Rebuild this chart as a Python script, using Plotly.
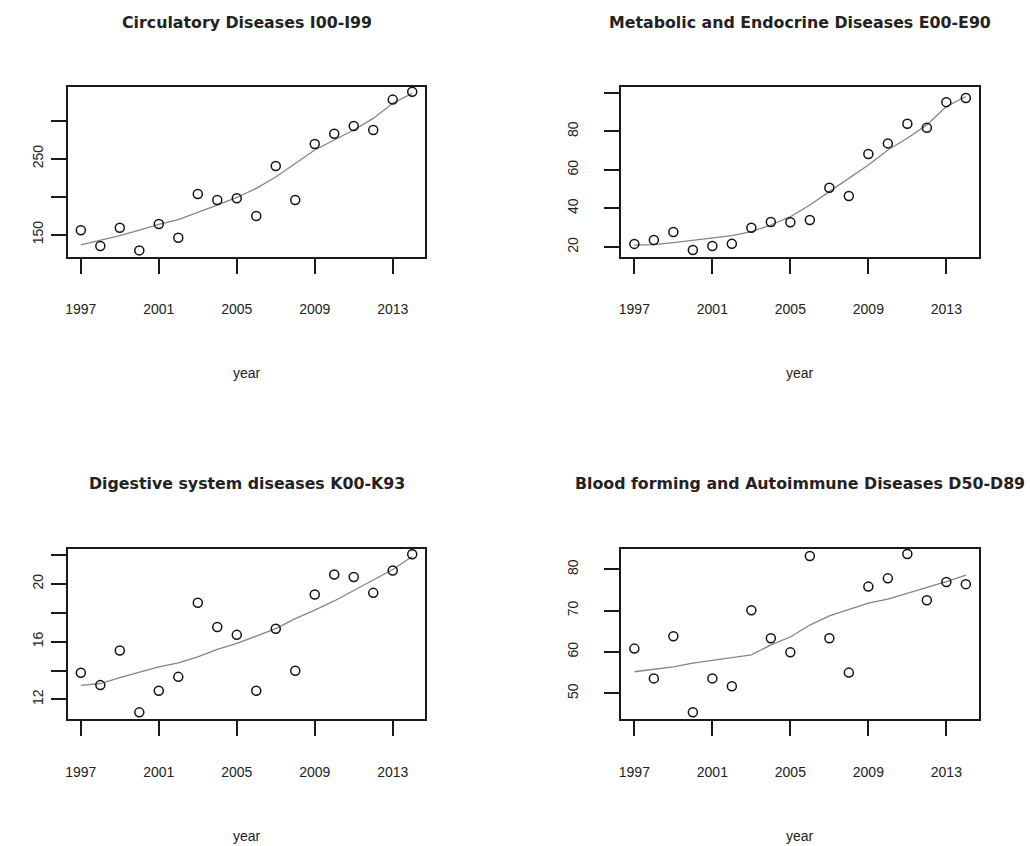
import plotly.graph_objects as go

years = list(range(1997, 2015))

titles = [
    "Circulatory Diseases I00-I99",
    "Metabolic and Endocrine Diseases E00-E90",
    "Digestive system diseases K00-K93",
    "Blood forming and Autoimmune Diseases D50-D89",
]

circulatory = [155.8, 135.1, 159.2, 129.4, 164.1, 146.1, 203.5, 195.7, 197.9, 174.6,
               240.4, 195.7, 269.4, 282.9, 293.0, 287.8, 327.7, 338.0]
circulatory_smooth = [136.8, 143.0, 148.7, 156.0, 163.7, 170.0, 179.0, 189.0, 199.0, 211.0,
                      226.0, 244.0, 261.5, 274.6, 287.8, 303.0, 323.0, 336.0]

metabolic = [21.6, 23.6, 27.8, 18.4, 20.5, 21.7, 30.0, 33.0, 32.8, 34.0,
             50.7, 46.4, 68.2, 73.7, 83.9, 81.8, 95.1, 97.2]
metabolic_smooth = [21.0, 21.2, 22.3, 23.6, 24.8, 25.9, 28.0, 31.4, 35.7, 41.8,
                    48.7, 55.6, 62.5, 70.3, 76.4, 83.3, 92.8, 98.0]

digestive = [13.84, 12.99, 15.39, 11.10, 12.60, 13.56, 18.69, 17.02, 16.47, 12.60,
             16.89, 13.98, 19.27, 20.65, 20.48, 19.38, 20.93, 22.06]
digestive_smooth = [12.97, 13.10, 13.50, 13.90, 14.26, 14.53, 14.95, 15.46, 15.88, 16.38,
                    16.90, 17.60, 18.18, 18.82, 19.56, 20.30, 21.00, 21.90]

blood = [60.8, 53.6, 63.8, 45.4, 53.6, 51.7, 70.1, 63.3, 59.9, 83.2,
         63.3, 55.0, 75.8, 77.8, 83.7, 72.5, 76.9, 76.4]
blood_smooth = [55.2, 55.8, 56.4, 57.3, 57.9, 58.6, 59.3, 61.7, 63.6, 66.5,
                68.7, 70.3, 71.8, 72.8, 74.2, 75.7, 77.0, 78.6]

x_tickvals = [1997, 2001, 2005, 2009, 2013]
x_range = [1996.32, 2014.68]

y_tickvals = [[150, 200, 250, 300], [20, 40, 60, 80, 100],
              [12, 14, 16, 18, 20, 22], [50, 60, 70, 80]]
y_ticktext = [["150", "", "250", ""], ["20", "40", "60", "80", ""],
              ["12", "", "16", "", "20", ""], ["50", "60", "70", "80"]]
y_ranges = [[121.1, 344.7], [14.97, 103.1], [10.62, 22.42], [43.7, 84.9]]

series = [circulatory, metabolic, digestive, blood]
smooths = [circulatory_smooth, metabolic_smooth, digestive_smooth, blood_smooth]

W, H = 1030, 846
# pixel boxes of the four panels: (left, right, top, bottom)
boxes = [(65.7, 424.3, 86.7, 256.7), (620.3, 979.0, 86.7, 256.7),
         (65.7, 424.3, 549.0, 719.3), (620.3, 979.0, 549.0, 719.3)]
title_y = [22, 22, 483, 483]
xlab_y = [373, 373, 836, 836]
ylab_standoff = [2, 21, 2, 21]

fig = go.Figure()
axis_col = "#1a1a1a"
text_col = "#222222"
annotations = []
for i in range(4):
    l, r, t, b = boxes[i]
    xa = "x" if i == 0 else f"x{i+1}"
    ya = "y" if i == 0 else f"y{i+1}"
    fig.add_trace(go.Scatter(x=years, y=smooths[i], mode="lines",
                             line=dict(color="#858585", width=1.3),
                             xaxis=xa, yaxis=ya, showlegend=False, hoverinfo="skip"))
    fig.add_trace(go.Scatter(x=years, y=series[i], mode="markers",
                             marker=dict(symbol="circle-open", size=9, color="#111111",
                                         line=dict(width=1.5, color="#111111")),
                             xaxis=xa, yaxis=ya, showlegend=False))
    xkey = "xaxis" if i == 0 else f"xaxis{i+1}"
    ykey = "yaxis" if i == 0 else f"yaxis{i+1}"
    common = dict(showline=True, mirror=True, linecolor=axis_col, linewidth=1.8,
                  ticks="outside", ticklen=15, tickwidth=1.5, tickcolor=axis_col,
                  showgrid=False, zeroline=False,
                  tickfont=dict(family="Liberation Sans, Arial, sans-serif", size=14, color=text_col))
    fig.layout[xkey] = dict(common, domain=[l / W, r / W], anchor=ya, range=x_range,
                            tickvals=x_tickvals, ticktext=[str(v) for v in x_tickvals],
                            ticklabelstandoff=24)
    fig.layout[ykey] = dict(common, domain=[1 - b / H, 1 - t / H], anchor=xa, range=y_ranges[i],
                            tickvals=y_tickvals[i], ticktext=y_ticktext[i], tickangle=-90,
                            ticklabelstandoff=ylab_standoff[i])
    cx = (l + r) / 2 / W
    annotations.append(dict(text=f"<b>{titles[i]}</b>", x=cx, y=1 - title_y[i] / H,
                            xref="paper", yref="paper", showarrow=False,
                            xanchor="center", yanchor="middle",
                            font=dict(family="DejaVu Sans, Verdana, sans-serif", size=15.8, color=text_col)))
    annotations.append(dict(text="year", x=cx, y=1 - xlab_y[i] / H,
                            xref="paper", yref="paper", showarrow=False,
                            xanchor="center", yanchor="middle",
                            font=dict(family="Liberation Sans, Arial, sans-serif", size=14, color=text_col)))

fig.update_layout(width=W, height=H, margin=dict(l=0, r=0, t=0, b=0),
                  paper_bgcolor="white", plot_bgcolor="white",
                  annotations=annotations)

fig.write_html("out.html", config={"displayModeBar": False},
               post_script="document.body.style.margin='0';")
